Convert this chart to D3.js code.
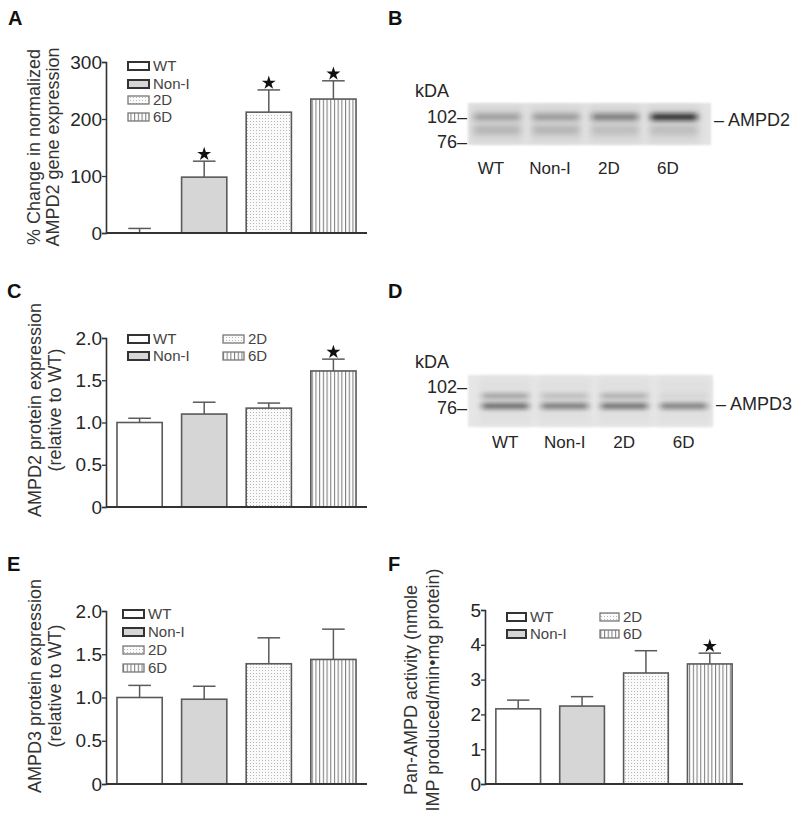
<!DOCTYPE html>
<html>
<head>
<meta charset="utf-8">
<script src="https://cdn.jsdelivr.net/npm/d3@7"></script>
<style>
  body { margin: 0; background: #fff; }
  text { font-family: "Liberation Sans", Arial, sans-serif; fill: #262626; }
</style>
</head>
<body>
<script>
// groups shared by every panel
var groups = ["WT", "Non-I", "2D", "6D"];

// A: % change in AMPD2 gene expression
var geneMean = [0, 98, 212, 235];
var geneSem = [8, 28, 39, 32];
var geneStar = [0, 1, 1, 1];
var geneTicks = ["0", "100", "200", "300"];

// C: AMPD2 protein (relative to WT)
var ampd2Mean = [1.00, 1.10, 1.17, 1.61];
var ampd2Sem = [0.05, 0.14, 0.06, 0.14];
var ampd2Star = [0, 0, 0, 1];

// E: AMPD3 protein (relative to WT)
var ampd3Mean = [1.00, 0.98, 1.39, 1.44];
var ampd3Sem = [0.14, 0.15, 0.30, 0.35];
var ampd3Star = [0, 0, 0, 0];
var ratioTicks = ["0", "0.5", "1.0", "1.5", "2.0"];

// F: pan-AMPD activity
var panMean = [2.16, 2.24, 3.19, 3.45];
var panSem = [0.25, 0.27, 0.64, 0.31];
var panStar = [0, 0, 0, 1];
var panTicks = ["0", "1", "2", "3", "4", "5"];

// blots: band darkness per lane (0..1)
var kdaMarks = ["102", "76"];
var ampd2Upper = [0.26, 0.28, 0.42, 0.80];
var ampd2Lower = [0.14, 0.14, 0.10, 0.10];
var ampd3Upper = [0.32, 0.18, 0.26, 0.05];
var ampd3Lower = [0.55, 0.48, 0.52, 0.45];

var W = 800, H = 830;
var svg = d3.select('body').append('svg')
    .attr('width', W)
    .attr('height', H);

var defs = svg.append('defs');

// dotted fill for 2D
var dots = defs.append('pattern').attr('id', 'dots')
    .attr('patternUnits', 'userSpaceOnUse').attr('width', 3).attr('height', 3);
dots.append('rect').attr('width', 3).attr('height', 3).attr('fill', '#fafafa');
dots.append('rect').attr('x', 1).attr('y', 1).attr('width', 1).attr('height', 1).attr('fill', '#b8b8b8');

// vertical stripes for 6D
var stripes = defs.append('pattern').attr('id', 'stripes')
    .attr('patternUnits', 'userSpaceOnUse').attr('width', 3.7).attr('height', 10);
stripes.append('rect').attr('width', 3.7).attr('height', 10).attr('fill', '#fff');
stripes.append('line').attr('x1', 1.5).attr('x2', 1.5).attr('y1', 0).attr('y2', 10)
    .attr('stroke', '#777').attr('stroke-width', 1);

defs.append('filter').attr('id', 'blur').attr('x', '-30%').attr('y', '-150%')
    .attr('width', '160%').attr('height', '400%')
    .append('feGaussianBlur').attr('stdDeviation', '3 2.2');
defs.append('filter').attr('id', 'blurwide')
    .append('feGaussianBlur').attr('stdDeviation', 3);
defs.append('filter').attr('id', 'soft')
    .append('feGaussianBlur').attr('stdDeviation', 0.8);

var fills = ['#ffffff', '#d6d6d6', 'url(#dots)', 'url(#stripes)'];
var edge = '#5a5a5a';

function letter(t, x, y) {
    svg.append('text').attr('x', x).attr('y', y).text(t)
        .style('font-size', '20px').style('font-weight', 'bold').style('fill', '#111');
}

function barPanel(o) {
    var g = svg.append('g');
    var x = d3.scaleBand().domain(groups).range([o.x0, o.x1])
        .paddingInner(0.3).paddingOuter(0.17);
    var y = d3.scaleLinear().domain([0, o.max]).range([o.y0, o.y1]);
    var vals = o.ticks.map(function (t) { return +t; });

    var ax = g.append('g').attr('transform', 'translate(' + o.x0 + ',0)')
        .call(d3.axisLeft(y).tickValues(vals).tickSize(4).tickPadding(0)
            .tickFormat(function (d, i) { return o.ticks[i]; }));
    ax.select('.domain').attr('stroke', '#333').attr('stroke-width', 1.6);
    ax.selectAll('.tick line').attr('stroke', '#333').attr('stroke-width', 1.3);
    ax.selectAll('.tick text').style('font-size', '19px').style('font-family', '"Liberation Sans", Arial, sans-serif')
        .attr('fill', '#333');

    var rows = groups.map(function (d, i) {
        return { g: d, i: i, m: o.mean[i], s: o.sem[i], star: o.star[i] };
    });

    // error bars (upper only)
    var eb = g.selectAll('.eb').data(rows).enter().append('g');
    eb.append('line')
        .attr('x1', function (d) { return x(d.g) + x.bandwidth() / 2; })
        .attr('x2', function (d) { return x(d.g) + x.bandwidth() / 2; })
        .attr('y1', function (d) { return y(d.m); })
        .attr('y2', function (d) { return y(d.m + d.s); })
        .attr('stroke', edge).attr('stroke-width', 1.5);
    eb.append('line')
        .attr('x1', function (d) { return x(d.g) + x.bandwidth() / 4; })
        .attr('x2', function (d) { return x(d.g) + x.bandwidth() * 3 / 4; })
        .attr('y1', function (d) { return y(d.m + d.s); })
        .attr('y2', function (d) { return y(d.m + d.s); })
        .attr('stroke', edge).attr('stroke-width', 1.5);

    g.selectAll('.bar').data(rows.filter(function (d) { return d.m > 0; })).enter().append('rect')
        .attr('x', function (d) { return x(d.g); })
        .attr('y', function (d) { return y(d.m); })
        .attr('width', x.bandwidth())
        .attr('height', function (d) { return y(0) - y(d.m); })
        .attr('fill', function (d) { return fills[d.i]; })
        .attr('stroke', edge).attr('stroke-width', 1.6);

    var star = d3.symbol().type(d3.symbolStar).size(60);
    g.selectAll('.star').data(rows.filter(function (d) { return d.star; })).enter().append('path')
        .attr('d', star)
        .attr('transform', function (d) {
            return 'translate(' + (x(d.g) + x.bandwidth() / 2) + ',' + (y(d.m + d.s) - 7) + ')';
        })
        .attr('fill', '#111');

    // x baseline
    g.append('line').attr('x1', o.x0).attr('x2', o.x1)
        .attr('y1', y(0)).attr('y2', y(0))
        .attr('stroke', '#333').attr('stroke-width', 2);

    // legend
    o.legend.forEach(function (p, k) {
        var i = p[0];
        g.append('rect').attr('x', p[1]).attr('y', p[2] - 4)
            .attr('width', o.boxW).attr('height', 8)
            .attr('fill', fills[i])
            .attr('stroke', i < 2 ? '#333' : '#777')
            .attr('stroke-width', i < 2 ? 2 : 1.3);
        g.append('text').attr('x', p[1] + o.boxW + 4).attr('y', p[2])
            .attr('dy', '0.36em').text(groups[i])
            .style('font-size', '15px').style('fill', '#444');
    });

    // y title
    var t = g.append('g').attr('transform', 'rotate(-90)');
    o.title.forEach(function (s, k) {
        t.append('text').attr('x', -o.titleY).attr('y', o.titleX[k])
            .attr('dy', '0.36em').attr('text-anchor', 'middle')
            .text(s).style('font-size', '18px').style('fill', '#333');
    });
}

function blot(o) {
    var g = svg.append('g');
    var lane = d3.scaleBand().domain(groups).range([o.x0 + o.shift, o.x1 + o.shift]).padding(0.12);
    g.append('rect').attr('x', o.x0).attr('y', o.y0)
        .attr('width', o.x1 - o.x0).attr('height', o.y1 - o.y0)
        .attr('fill', o.bg).attr('filter', 'url(#soft)');
    // lane tint
    g.selectAll('.lane').data(groups).enter().append('rect')
        .attr('x', function (d) { return lane(d); })
        .attr('y', o.y0 + 3)
        .attr('width', lane.bandwidth())
        .attr('height', o.y1 - o.y0 - 6)
        .attr('fill', o.laneFill)
        .attr('filter', 'url(#blurwide)');
    [[o.upper, o.upperY, o.upperH], [o.lower, o.lowerY, o.lowerH]].forEach(function (b) {
        g.selectAll(null).data(groups).enter().append('rect')
            .attr('x', function (d) { return lane(d) + 3; })
            .attr('y', b[1] - b[2] / 2)
            .attr('width', lane.bandwidth() - 6)
            .attr('height', b[2])
            .attr('fill', '#111')
            .attr('opacity', function (d, i) { return b[0][i]; })
            .attr('filter', 'url(#blur)');
    });
    g.append('text').attr('x', 415).attr('y', o.kdaY).text('kDA').style('font-size', '18px');
    kdaMarks.forEach(function (m, k) {
        g.append('text').attr('x', 467).attr('y', o.markY[k]).attr('dy', '0.36em')
            .attr('text-anchor', 'end').text(m + '\u2013').style('font-size', '18px');
    });
    g.append('text').attr('x', o.x1 + 3).attr('y', o.tagY).attr('dy', '0.36em')
        .text('\u2013 ' + o.tag).style('font-size', '18px');
    g.selectAll('.ln').data(groups).enter().append('text')
        .attr('x', function (d) { return lane(d) + lane.bandwidth() / 2 + o.labelShift; })
        .attr('y', o.labelY).attr('dy', '0.36em').attr('text-anchor', 'middle')
        .text(function (d) { return d; }).style('font-size', '17px');
}

letter('A', 8, 25);
letter('B', 388, 25);
letter('C', 7, 298);
letter('D', 388, 298);
letter('E', 7, 571);
letter('F', 388, 571);

barPanel({
    x0: 106, x1: 367, y0: 233, y1: 62, max: 300, ticks: geneTicks,
    mean: geneMean, sem: geneSem, star: geneStar, boxW: 21,
    legend: [[0, 128, 66], [1, 128, 84], [2, 128, 100], [3, 128, 117]],
    title: ['% Change in normalized', 'AMPD2 gene expression'], titleX: [34, 53], titleY: 147
});

barPanel({
    x0: 106, x1: 367, y0: 507, y1: 338, max: 2, ticks: ratioTicks,
    mean: ampd2Mean, sem: ampd2Sem, star: ampd2Star, boxW: 21,
    legend: [[0, 128, 339], [1, 128, 356], [2, 223, 339], [3, 223, 356]],
    title: ['AMPD2 protein expression', '(relative to WT)'], titleX: [35, 55], titleY: 410
});

barPanel({
    x0: 106, x1: 367, y0: 784, y1: 611, max: 2, ticks: ratioTicks,
    mean: ampd3Mean, sem: ampd3Sem, star: ampd3Star, boxW: 21,
    legend: [[0, 123, 614], [1, 123, 632], [2, 123, 650], [3, 123, 668]],
    title: ['AMPD3 protein expression', '(relative to WT)'], titleX: [35, 55], titleY: 686
});

barPanel({
    x0: 485, x1: 743, y0: 784, y1: 610, max: 5, ticks: panTicks,
    mean: panMean, sem: panSem, star: panStar, boxW: 19,
    legend: [[0, 507, 617], [1, 507, 634], [2, 600, 617], [3, 600, 634]],
    title: ['Pan-AMPD activity (nmole', 'IMP produced/min\u2022mg protein)'], titleX: [411, 433], titleY: 690
});

blot({
    x0: 468, x1: 711, y0: 103, y1: 145, shift: -4, bg: '#e2e2e2', laneFill: '#d4d4d4',
    upper: ampd2Upper, upperY: 117, upperH: 7,
    lower: ampd2Lower, lowerY: 130, lowerH: 9,
    kdaY: 97, markY: [117, 142], tag: 'AMPD2', tagY: 120,
    labelY: 168, labelShift: -6
});

blot({
    x0: 468, x1: 713, y0: 375, y1: 427, shift: 4, bg: '#e6e6e6', laneFill: '#e0e0e0',
    upper: ampd3Upper, upperY: 396, upperH: 5,
    lower: ampd3Lower, lowerY: 406, lowerH: 6,
    kdaY: 368, markY: [387, 408], tag: 'AMPD3', tagY: 404,
    labelY: 442, labelShift: 0
});
</script>
</body>
</html>
